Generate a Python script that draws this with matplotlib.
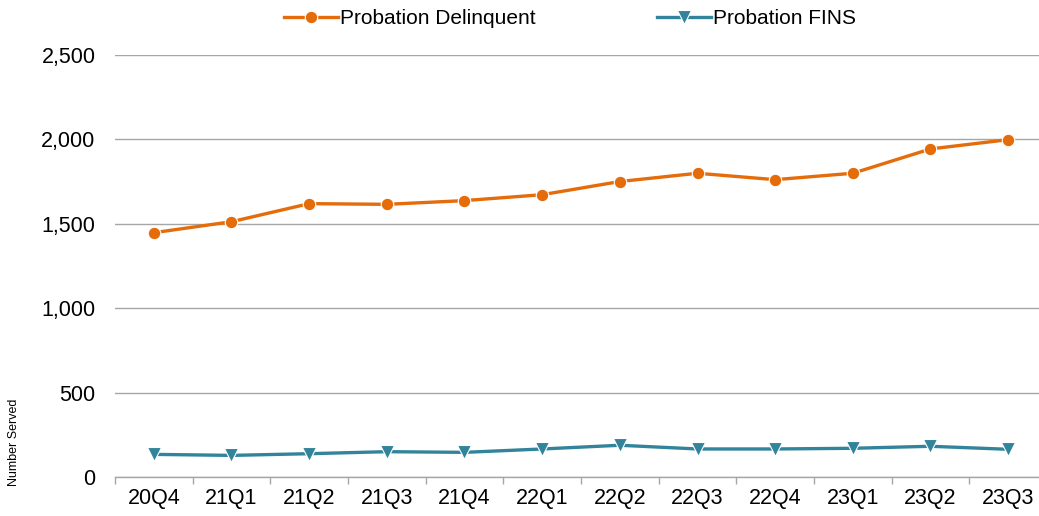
import matplotlib
matplotlib.use("Agg")
import matplotlib.pyplot as plt
import numpy as np

quarters = ["20Q4", "21Q1", "21Q2", "21Q3", "21Q4", "22Q1",
            "22Q2", "22Q3", "22Q4", "23Q1", "23Q2", "23Q3"]
delinquent = [1447, 1512, 1619, 1615, 1637, 1672, 1750, 1799, 1761, 1799, 1943, 1998]
fins = [134, 128, 138, 150, 146, 166, 188, 166, 166, 170, 182, 164]

plt.rcParams['font.family'] = ['Liberation Sans', 'DejaVu Sans']

orange = '#E46C0A'
teal = '#31849B'
grid_col = '#a6a6a6'

fig = plt.figure(figsize=(10.39, 5.16), dpi=100)
W, H = 1039, 516
ax = fig.add_axes([115 / W, 1 - 477 / H, 932 / W, (477 - 54.9) / H])

x = np.arange(len(quarters))
ax.plot(x, delinquent, color=orange, lw=2.4, marker='o', ms=9,
        mec='white', mew=0.8, label='Probation Delinquent', zorder=3)
ax.plot(x, fins, color=teal, lw=2.4, marker='v', ms=10,
        mec='white', mew=0.8, label='Probation FINS', zorder=3)

ax.set_xlim(-0.5, len(quarters) - 0.5)
ax.set_ylim(0, 2500)
ax.set_yticks(range(0, 2501, 500))
ax.set_yticklabels([f"{v:,}" for v in range(0, 2501, 500)], fontsize=15.5)
ax.yaxis.grid(True, color=grid_col, lw=1)
ax.set_axisbelow(True)
ax.tick_params(axis='y', length=0, pad=14)

ax.set_xticks(x)
ax.set_xticklabels(quarters, fontsize=15.5)
ax.set_xticks(np.arange(-0.5, len(quarters)), minor=True)
ax.tick_params(axis='x', which='major', length=0, pad=8)
ax.tick_params(axis='x', which='minor', length=5, color=grid_col, width=1)

for s in ['top', 'right', 'left']:
    ax.spines[s].set_visible(False)
ax.spines['bottom'].set_color(grid_col)
ax.spines['bottom'].set_linewidth(1)

fig.text(14 / W, 1 - 442 / H, "Number Served", rotation=90, fontsize=9,
         ha='center', va='center')

fig.legend(loc='center', bbox_to_anchor=(570 / W, 1 - 19 / H), ncol=2,
           frameon=False, fontsize=15, handlelength=2.6, handletextpad=0.1,
           columnspacing=5.8, borderpad=0.1)

fig.savefig("out.png", dpi=100)
